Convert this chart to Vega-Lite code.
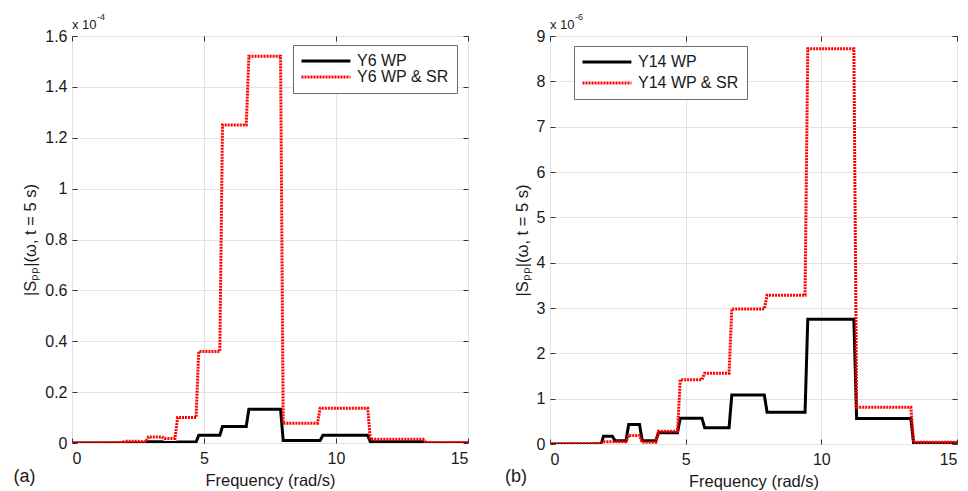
{
  "$schema": "https://vega.github.io/schema/vega-lite/v6.json",
  "padding": {"left": 12, "top": 12, "right": 4, "bottom": 2},
  "background": "white",
  "config": {
    "font": "Liberation Sans",
    "view": {"stroke": "#7a7a7a", "strokeWidth": 1},
    "axis": {
      "labelFont": "Liberation Sans",
      "labelFontSize": 16,
      "labelColor": "#1a1a1a",
      "titleFont": "Liberation Sans",
      "titleFontSize": 16.5,
      "titleFontWeight": "normal",
      "titleColor": "#1a1a1a",
      "domain": false,
      "tickColor": "#333333",
      "tickSize": -5,
      "gridColor": "#e3e3e3",
      "gridWidth": 1
    },
    "axisX": {"labelPadding": 12, "titlePadding": 6},
    "axisY": {"labelPadding": 10, "titlePadding": 6},
    "legend": {
      "labelFont": "Liberation Sans",
      "labelFontSize": 16,
      "labelColor": "#1a1a1a",
      "strokeColor": "#6e6e6e",
      "fillColor": "white",
      "padding": 8,
      "symbolType": "M-1.25,0H6.9",
      "symbolSize": 144,
      "symbolStrokeWidth": 3,
      "labelOffset": 40,
      "cornerRadius": 0
    }
  },
  "datasets": {
    "y6": [
      {"series": "Y6 WP", "freq": 0, "spp": 0},
      {"series": "Y6 WP", "freq": 2.8, "spp": 0},
      {"series": "Y6 WP", "freq": 2.9, "spp": 0.005},
      {"series": "Y6 WP", "freq": 3.4, "spp": 0.005},
      {"series": "Y6 WP", "freq": 3.5, "spp": 0.002},
      {"series": "Y6 WP", "freq": 3.9, "spp": 0.002},
      {"series": "Y6 WP", "freq": 4.0, "spp": 0.004},
      {"series": "Y6 WP", "freq": 4.7, "spp": 0.004},
      {"series": "Y6 WP", "freq": 4.8, "spp": 0.03},
      {"series": "Y6 WP", "freq": 5.6, "spp": 0.03},
      {"series": "Y6 WP", "freq": 5.7, "spp": 0.065},
      {"series": "Y6 WP", "freq": 6.6, "spp": 0.065},
      {"series": "Y6 WP", "freq": 6.7, "spp": 0.133},
      {"series": "Y6 WP", "freq": 7.9, "spp": 0.133},
      {"series": "Y6 WP", "freq": 8.0, "spp": 0.01},
      {"series": "Y6 WP", "freq": 9.4, "spp": 0.01},
      {"series": "Y6 WP", "freq": 9.5, "spp": 0.03},
      {"series": "Y6 WP", "freq": 11.2, "spp": 0.03},
      {"series": "Y6 WP", "freq": 11.3, "spp": 0.005},
      {"series": "Y6 WP", "freq": 13.3, "spp": 0.005},
      {"series": "Y6 WP", "freq": 13.4, "spp": 0},
      {"series": "Y6 WP", "freq": 15, "spp": 0},
      {"series": "Y6 WP & SR", "freq": 0, "spp": 0},
      {"series": "Y6 WP & SR", "freq": 1.9, "spp": 0.002},
      {"series": "Y6 WP & SR", "freq": 2.0, "spp": 0.007},
      {"series": "Y6 WP & SR", "freq": 2.6, "spp": 0.007},
      {"series": "Y6 WP & SR", "freq": 2.7, "spp": 0.005},
      {"series": "Y6 WP & SR", "freq": 2.8, "spp": 0.005},
      {"series": "Y6 WP & SR", "freq": 2.9, "spp": 0.024},
      {"series": "Y6 WP & SR", "freq": 3.4, "spp": 0.024},
      {"series": "Y6 WP & SR", "freq": 3.5, "spp": 0.018},
      {"series": "Y6 WP & SR", "freq": 3.9, "spp": 0.018},
      {"series": "Y6 WP & SR", "freq": 4.0, "spp": 0.1},
      {"series": "Y6 WP & SR", "freq": 4.7, "spp": 0.1},
      {"series": "Y6 WP & SR", "freq": 4.8, "spp": 0.36},
      {"series": "Y6 WP & SR", "freq": 5.6, "spp": 0.36},
      {"series": "Y6 WP & SR", "freq": 5.7, "spp": 1.25},
      {"series": "Y6 WP & SR", "freq": 6.6, "spp": 1.25},
      {"series": "Y6 WP & SR", "freq": 6.7, "spp": 1.52},
      {"series": "Y6 WP & SR", "freq": 7.9, "spp": 1.52},
      {"series": "Y6 WP & SR", "freq": 8.0, "spp": 0.078},
      {"series": "Y6 WP & SR", "freq": 9.3, "spp": 0.078},
      {"series": "Y6 WP & SR", "freq": 9.4, "spp": 0.137},
      {"series": "Y6 WP & SR", "freq": 11.2, "spp": 0.137},
      {"series": "Y6 WP & SR", "freq": 11.3, "spp": 0.015},
      {"series": "Y6 WP & SR", "freq": 13.3, "spp": 0.015},
      {"series": "Y6 WP & SR", "freq": 13.4, "spp": 0.002},
      {"series": "Y6 WP & SR", "freq": 15, "spp": 0.002}
    ],
    "y14": [
      {"series": "Y14 WP", "freq": 0, "spp": 0},
      {"series": "Y14 WP", "freq": 1.8, "spp": 0},
      {"series": "Y14 WP", "freq": 1.9, "spp": 0.02},
      {"series": "Y14 WP", "freq": 1.97, "spp": 0.17},
      {"series": "Y14 WP", "freq": 2.3, "spp": 0.17},
      {"series": "Y14 WP", "freq": 2.4, "spp": 0.07},
      {"series": "Y14 WP", "freq": 2.8, "spp": 0.07},
      {"series": "Y14 WP", "freq": 2.9, "spp": 0.43},
      {"series": "Y14 WP", "freq": 3.3, "spp": 0.43},
      {"series": "Y14 WP", "freq": 3.4, "spp": 0.07},
      {"series": "Y14 WP", "freq": 3.9, "spp": 0.07},
      {"series": "Y14 WP", "freq": 4.0, "spp": 0.25},
      {"series": "Y14 WP", "freq": 4.7, "spp": 0.25},
      {"series": "Y14 WP", "freq": 4.8, "spp": 0.57},
      {"series": "Y14 WP", "freq": 5.6, "spp": 0.57},
      {"series": "Y14 WP", "freq": 5.7, "spp": 0.36},
      {"series": "Y14 WP", "freq": 6.6, "spp": 0.36},
      {"series": "Y14 WP", "freq": 6.7, "spp": 1.08},
      {"series": "Y14 WP", "freq": 7.9, "spp": 1.08},
      {"series": "Y14 WP", "freq": 8.0, "spp": 0.7},
      {"series": "Y14 WP", "freq": 9.4, "spp": 0.7},
      {"series": "Y14 WP", "freq": 9.5, "spp": 2.75},
      {"series": "Y14 WP", "freq": 11.2, "spp": 2.75},
      {"series": "Y14 WP", "freq": 11.3, "spp": 0.56},
      {"series": "Y14 WP", "freq": 13.3, "spp": 0.56},
      {"series": "Y14 WP", "freq": 13.4, "spp": 0.02},
      {"series": "Y14 WP", "freq": 15, "spp": 0.02},
      {"series": "Y14 WP & SR", "freq": 0, "spp": 0},
      {"series": "Y14 WP & SR", "freq": 1.9, "spp": 0.01},
      {"series": "Y14 WP & SR", "freq": 2.0, "spp": 0.05},
      {"series": "Y14 WP & SR", "freq": 2.8, "spp": 0.05},
      {"series": "Y14 WP & SR", "freq": 2.9, "spp": 0.19},
      {"series": "Y14 WP & SR", "freq": 3.3, "spp": 0.19},
      {"series": "Y14 WP & SR", "freq": 3.4, "spp": 0.04},
      {"series": "Y14 WP & SR", "freq": 3.9, "spp": 0.04},
      {"series": "Y14 WP & SR", "freq": 4.0, "spp": 0.28},
      {"series": "Y14 WP & SR", "freq": 4.7, "spp": 0.28},
      {"series": "Y14 WP & SR", "freq": 4.8, "spp": 1.42},
      {"series": "Y14 WP & SR", "freq": 5.6, "spp": 1.42},
      {"series": "Y14 WP & SR", "freq": 5.7, "spp": 1.56},
      {"series": "Y14 WP & SR", "freq": 6.6, "spp": 1.56},
      {"series": "Y14 WP & SR", "freq": 6.7, "spp": 2.98},
      {"series": "Y14 WP & SR", "freq": 7.9, "spp": 2.98},
      {"series": "Y14 WP & SR", "freq": 8.0, "spp": 3.28},
      {"series": "Y14 WP & SR", "freq": 9.4, "spp": 3.28},
      {"series": "Y14 WP & SR", "freq": 9.5, "spp": 8.72},
      {"series": "Y14 WP & SR", "freq": 11.2, "spp": 8.72},
      {"series": "Y14 WP & SR", "freq": 11.3, "spp": 0.81},
      {"series": "Y14 WP & SR", "freq": 13.3, "spp": 0.81},
      {"series": "Y14 WP & SR", "freq": 13.4, "spp": 0.04},
      {"series": "Y14 WP & SR", "freq": 15, "spp": 0.04}
    ],
    "notesA": [
      {"freq": 0, "spp": 1.6, "label": "x 10", "kind": "exp"},
      {"freq": 0, "spp": 1.6, "label": "-4", "kind": "sup"},
      {"freq": -1.8, "spp": -0.134, "label": "(a)", "kind": "tag"}
    ],
    "notesB": [
      {"freq": 0, "spp": 9, "label": "x 10", "kind": "exp"},
      {"freq": 0, "spp": 9, "label": "-6", "kind": "sup"},
      {"freq": -1.25, "spp": -0.73, "label": "(b)", "kind": "tag"}
    ]
  },
  "hconcat": [
    {
      "width": 396,
      "height": 407,
      "layer": [
        {
          "data": {"name": "y6"},
          "mark": {"type": "line", "strokeWidth": 3, "clip": true},
          "encoding": {
            "x": {
              "field": "freq", "type": "quantitative",
              "scale": {"domain": [0, 15], "nice": false, "zero": false},
              "axis": {"title": "Frequency (rad/s)", "values": [0, 5, 10, 15], "format": "~g"}
            },
            "y": {
              "field": "spp", "type": "quantitative",
              "scale": {"domain": [0, 1.6], "nice": false},
              "axis": {"title": "|Sₚₚ|(ω, t = 5 s)", "values": [0, 0.2, 0.4, 0.6, 0.8, 1, 1.2, 1.4, 1.6], "format": "~g"}
            },
            "color": {
              "field": "series", "type": "nominal",
              "scale": {"domain": ["Y6 WP", "Y6 WP & SR"], "range": ["#000000", "#ff0000"]},
              "legend": {"title": null, "orient": "none", "legendX": 221, "legendY": 9, "rowPadding": -1}
            },
            "strokeDash": {
              "field": "series", "type": "nominal",
              "scale": {"domain": ["Y6 WP", "Y6 WP & SR"], "range": [[1, 0], [2, 1]]},
              "legend": {"title": null, "orient": "none", "legendX": 221, "legendY": 9, "rowPadding": -1}
            }
          }
        },
        {
          "data": {"name": "y6"},
          "mark": {"type": "point", "opacity": 0},
          "encoding": {
            "x": {"field": "freq", "type": "quantitative", "axis": {"orient": "top", "labels": false, "title": null, "grid": false, "values": [0, 5, 10, 15]}},
            "y": {"field": "spp", "type": "quantitative", "axis": {"orient": "right", "labels": false, "title": null, "grid": false, "values": [0, 0.2, 0.4, 0.6, 0.8, 1, 1.2, 1.4, 1.6]}}
          }
        },
        {
          "data": {"name": "notesA"},
          "transform": [{"filter": "datum.kind === 'exp'"}],
          "mark": {"type": "text", "align": "left", "baseline": "alphabetic", "dy": -7, "fontSize": 13, "color": "#1a1a1a"},
          "encoding": {
            "x": {"field": "freq", "type": "quantitative", "axis": null},
            "y": {"field": "spp", "type": "quantitative", "axis": null},
            "text": {"field": "label"}
          }
        },
        {
          "data": {"name": "notesA"},
          "transform": [{"filter": "datum.kind === 'sup'"}],
          "mark": {"type": "text", "align": "left", "baseline": "alphabetic", "dx": 25, "dy": -16, "fontSize": 9, "color": "#1a1a1a"},
          "encoding": {
            "x": {"field": "freq", "type": "quantitative", "axis": null},
            "y": {"field": "spp", "type": "quantitative", "axis": null},
            "text": {"field": "label"}
          }
        },
        {
          "data": {"name": "notesA"},
          "transform": [{"filter": "datum.kind === 'tag'"}],
          "mark": {"type": "text", "align": "center", "baseline": "middle", "fontSize": 18, "color": "#1a1a1a"},
          "encoding": {
            "x": {"field": "freq", "type": "quantitative", "axis": null},
            "y": {"field": "spp", "type": "quantitative", "axis": null},
            "text": {"field": "label"}
          }
        }
      ],
      "resolve": {"axis": {"x": "independent", "y": "independent"}}
    },
    {
      "width": 407,
      "height": 408,
      "layer": [
        {
          "data": {"name": "y14"},
          "mark": {"type": "line", "strokeWidth": 3, "clip": true},
          "encoding": {
            "x": {
              "field": "freq", "type": "quantitative",
              "scale": {"domain": [0, 15], "nice": false, "zero": false},
              "axis": {"title": "Frequency (rad/s)", "values": [0, 5, 10, 15], "format": "~g"}
            },
            "y": {
              "field": "spp", "type": "quantitative",
              "scale": {"domain": [0, 9], "nice": false},
              "axis": {"title": "|Sₚₚ|(ω, t = 5 s)", "values": [0, 1, 2, 3, 4, 5, 6, 7, 8, 9], "format": "~g"}
            },
            "color": {
              "field": "series", "type": "nominal",
              "scale": {"domain": ["Y14 WP", "Y14 WP & SR"], "range": ["#000000", "#ff0000"]},
              "legend": {"title": null, "orient": "none", "legendX": 24, "legendY": 10, "rowPadding": 5}
            },
            "strokeDash": {
              "field": "series", "type": "nominal",
              "scale": {"domain": ["Y14 WP", "Y14 WP & SR"], "range": [[1, 0], [2, 1]]},
              "legend": {"title": null, "orient": "none", "legendX": 24, "legendY": 10, "rowPadding": 5}
            }
          }
        },
        {
          "data": {"name": "y14"},
          "mark": {"type": "point", "opacity": 0},
          "encoding": {
            "x": {"field": "freq", "type": "quantitative", "axis": {"orient": "top", "labels": false, "title": null, "grid": false, "values": [0, 5, 10, 15]}},
            "y": {"field": "spp", "type": "quantitative", "axis": {"orient": "right", "labels": false, "title": null, "grid": false, "values": [0, 1, 2, 3, 4, 5, 6, 7, 8, 9]}}
          }
        },
        {
          "data": {"name": "notesB"},
          "transform": [{"filter": "datum.kind === 'exp'"}],
          "mark": {"type": "text", "align": "left", "baseline": "alphabetic", "dy": -7, "fontSize": 13, "color": "#1a1a1a"},
          "encoding": {
            "x": {"field": "freq", "type": "quantitative", "axis": null},
            "y": {"field": "spp", "type": "quantitative", "axis": null},
            "text": {"field": "label"}
          }
        },
        {
          "data": {"name": "notesB"},
          "transform": [{"filter": "datum.kind === 'sup'"}],
          "mark": {"type": "text", "align": "left", "baseline": "alphabetic", "dx": 25, "dy": -16, "fontSize": 9, "color": "#1a1a1a"},
          "encoding": {
            "x": {"field": "freq", "type": "quantitative", "axis": null},
            "y": {"field": "spp", "type": "quantitative", "axis": null},
            "text": {"field": "label"}
          }
        },
        {
          "data": {"name": "notesB"},
          "transform": [{"filter": "datum.kind === 'tag'"}],
          "mark": {"type": "text", "align": "center", "baseline": "middle", "fontSize": 18, "color": "#1a1a1a"},
          "encoding": {
            "x": {"field": "freq", "type": "quantitative", "axis": null},
            "y": {"field": "spp", "type": "quantitative", "axis": null},
            "text": {"field": "label"}
          }
        }
      ],
      "resolve": {"axis": {"x": "independent", "y": "independent"}}
    }
  ],
  "spacing": 32,
  "resolve": {
    "scale": {"color": "independent", "strokeDash": "independent", "x": "independent", "y": "independent"},
    "legend": {"color": "independent", "strokeDash": "independent"}
  }
}
